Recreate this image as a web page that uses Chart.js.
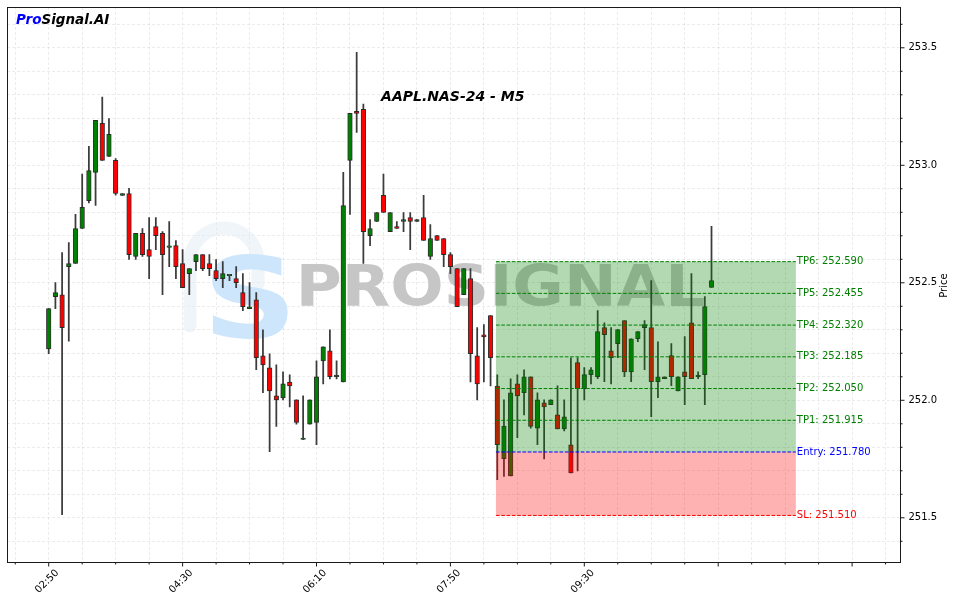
<!DOCTYPE html>
<html><head><meta charset="utf-8">
<script src="https://cdn.jsdelivr.net/npm/chart.js@4.4.1/dist/chart.umd.min.js"></script>
<style>html,body{margin:0;padding:0;background:#fff}#wrap{width:956px;height:603px;position:relative}</style>
</head><body><div id="wrap"><canvas id="c"></canvas></div>
<script>
const categories = [
'02:50','02:55','03:00','03:05','03:10','03:15','03:20','03:25','03:30','03:35','03:40','03:45','03:50','03:55','04:00','04:05','04:10','04:15','04:20','04:25',
'04:30','04:35','04:40','04:45','04:50','04:55','05:00','05:05','05:10','05:15','05:20','05:25','05:30','05:35','05:40','05:45','05:50','05:55','06:00','06:05',
'06:10','06:15','06:20','06:25','06:30','06:35','06:40','06:45','06:50','06:55','07:00','07:05','07:10','07:15','07:20','07:25','07:30','07:35','07:40','07:45',
'07:50','07:55','08:00','08:05','08:10','08:15','08:20','08:25','08:30','08:35','08:40','08:45','08:50','08:55','09:00','09:05','09:10','09:15','09:20','09:25',
'09:30','09:35','09:40','09:45','09:50','09:55','10:00','10:05','10:10','10:15','10:20','10:25','10:30','10:35','10:40','10:45','10:50','10:55','11:00','11:05'];

const opens = [
252.219,252.441,252.449,252.569,252.582,252.731,252.849,252.970,253.179,253.038,
253.021,252.872,252.880,252.612,252.710,252.641,252.739,252.710,252.651,252.658,
252.582,252.539,252.590,252.620,252.582,252.552,252.518,252.530,252.518,252.458,
252.390,252.428,252.189,252.138,252.019,252.010,252.078,252.002,251.833,251.898,
251.906,252.168,252.211,252.100,252.078,253.021,253.230,253.238,252.701,252.761,
252.872,252.718,252.739,252.761,252.778,252.761,252.778,252.612,252.701,252.688,
252.620,252.560,252.449,252.518,252.189,252.279,252.360,252.061,251.752,251.678,
252.070,252.032,252.100,251.881,251.989,251.981,251.938,251.878,251.810,252.160,
252.049,252.109,252.100,252.309,252.211,252.241,252.339,252.121,252.262,252.309,
252.309,252.079,252.092,252.190,252.040,252.121,252.330,252.100,252.109,252.480];
const highs = [
252.390,252.501,252.629,252.671,252.791,252.963,253.081,253.191,253.290,253.199,
253.029,252.880,252.902,252.710,252.731,252.778,252.778,252.718,252.761,252.680,
252.641,252.560,252.620,252.620,252.620,252.599,252.590,252.530,252.569,252.539,
252.501,252.458,252.300,252.198,252.151,252.121,252.108,252.002,252.019,252.002,
252.168,252.228,252.300,252.168,252.970,253.221,253.481,253.260,252.769,252.799,
252.963,252.799,252.761,252.799,252.799,252.769,252.872,252.748,252.701,252.688,
252.629,252.560,252.560,252.560,252.309,252.322,252.360,252.108,252.002,252.091,
252.108,252.130,252.100,252.032,252.002,252.002,252.062,252.002,252.181,252.181,
252.139,252.139,252.382,252.330,252.309,252.301,252.339,252.262,252.292,252.339,
252.509,252.249,252.100,252.241,252.100,252.271,252.539,252.121,252.441,252.740];
const lows = [
252.198,252.390,251.513,252.252,252.582,252.731,252.840,252.829,253.021,253.038,
252.873,252.872,252.599,252.599,252.612,252.518,252.641,252.449,252.569,252.518,
252.479,252.449,252.552,252.552,252.530,252.509,252.479,252.509,252.479,252.381,
252.390,252.130,252.032,251.781,251.889,252.002,251.972,251.898,251.833,251.898,
251.811,252.070,252.091,252.091,252.078,252.791,253.140,252.582,252.658,252.761,
252.799,252.718,252.731,252.718,252.641,252.761,252.680,252.599,252.680,252.569,
252.539,252.398,252.449,252.078,252.002,252.078,252.061,251.662,251.676,251.678,
251.841,251.938,251.881,251.811,251.750,251.981,251.878,251.870,251.691,251.699,
252.002,252.070,252.092,252.079,252.070,252.181,252.100,252.079,252.249,252.130,
251.930,252.011,252.092,252.062,252.040,251.981,252.092,252.092,251.981,252.480];
const closes = [
252.390,252.458,252.309,252.582,252.731,252.821,252.978,253.191,253.021,253.132,
252.880,252.880,252.620,252.710,252.620,252.612,252.701,252.620,252.651,252.569,
252.479,252.560,252.620,252.560,252.560,252.518,252.539,252.530,252.501,252.398,
252.398,252.181,252.151,252.040,252.002,252.070,252.061,251.906,251.833,252.002,
252.100,252.228,252.100,252.100,252.829,253.221,253.221,252.718,252.731,252.799,
252.799,252.799,252.731,252.769,252.761,252.769,252.680,252.688,252.680,252.620,
252.569,252.398,252.560,252.198,252.070,252.270,252.181,251.811,251.889,252.032,
252.019,252.100,251.889,252.002,251.972,252.002,251.878,251.930,251.691,252.049,
252.109,252.130,252.292,252.279,252.181,252.301,252.121,252.262,252.292,252.322,
252.079,252.100,252.100,252.100,252.100,252.100,252.092,252.100,252.399,252.509];

const levelNames  = ['TP6','TP5','TP4','TP3','TP2','TP1','Entry','SL'];
const levelValues = [252.590,252.455,252.320,252.185,252.050,251.915,251.780,251.510];
const zoneStartIdx = 66.8, zoneEndIdx = 111.6;
const yTickStep = 0.1, yLabelStep = 0.5;
const xGridStep = 5, xMajorStep = 20;
const chartTitle = 'AAPL.NAS-24 - M5';
const yTitle = 'Price';

const FONT = 'DejaVu Sans';
const GREEN = '#008000', RED = '#ff0000', BLUE = '#0000ff';

function isMult(v, s){ const r = v / s; return Math.abs(r - Math.round(r)) < 1e-6; }

function fitText(ctx, t, font, x0, y0, x1, y1, color){
  ctx.save();
  ctx.font = font; ctx.textAlign = 'left'; ctx.textBaseline = 'alphabetic';
  const m = ctx.measureText(t);
  const w = m.actualBoundingBoxLeft + m.actualBoundingBoxRight;
  const h = m.actualBoundingBoxAscent + m.actualBoundingBoxDescent;
  ctx.translate(x0, y0);
  ctx.scale((x1 - x0) / w, (y1 - y0) / h);
  ctx.fillStyle = color;
  ctx.fillText(t, m.actualBoundingBoxLeft, m.actualBoundingBoxAscent);
  ctx.restore();
}

function zeroPad(s){ s.paddingTop = 0; s.paddingBottom = 0; s.paddingLeft = 0; s.paddingRight = 0; }

const deco = {
  id: 'deco',
  beforeDatasetsDraw(chart){
    const {ctx, chartArea: a} = chart;
    ctx.save();
    ctx.beginPath(); ctx.rect(a.left, a.top, a.right - a.left, a.bottom - a.top); ctx.clip();
    ctx.filter = 'blur(0.7px)';
    ctx.strokeStyle = 'rgba(226,235,246,0.5)'; ctx.lineWidth = 13; ctx.lineCap = 'round';
    ctx.beginPath(); ctx.moveTo(190, 326); ctx.lineTo(190, 262); ctx.arc(224, 262, 34, Math.PI, 0); ctx.lineTo(258, 284); ctx.stroke();
    fitText(ctx, 'S', 'bold 100px ' + FONT, 212, 253, 288, 338, '#cde6fb');
    fitText(ctx, 'PROSIGNAL', 'bold 60px ' + FONT, 301, 263, 704, 307, '#c6c6c6');
    ctx.restore();
  },
  afterDatasetsDraw(chart){
    const {ctx} = chart;
    const xs = chart.scales.x, ys = chart.scales.y;
    const x0 = xs.getPixelForValue(zoneStartIdx), x1 = xs.getPixelForValue(zoneEndIdx);
    const entry = levelValues[levelNames.indexOf('Entry')];
    const sl = levelValues[levelNames.indexOf('SL')];
    const tpMax = Math.max(...levelValues);
    ctx.save();
    ctx.fillStyle = 'rgba(0,128,0,0.3)';
    ctx.fillRect(x0, ys.getPixelForValue(tpMax), x1 - x0, ys.getPixelForValue(entry) - ys.getPixelForValue(tpMax));
    ctx.fillStyle = 'rgba(255,0,0,0.3)';
    ctx.fillRect(x0, ys.getPixelForValue(entry), x1 - x0, ys.getPixelForValue(sl) - ys.getPixelForValue(entry));
    ctx.lineWidth = 1; ctx.setLineDash([3.7, 1.6]);
    ctx.font = '10px ' + FONT; ctx.textBaseline = 'middle'; ctx.textAlign = 'left';
    levelNames.forEach((n, i) => {
      const v = levelValues[i];
      const col = n === 'Entry' ? BLUE : (n === 'SL' ? RED : GREEN);
      const py = ys.getPixelForValue(v);
      ctx.strokeStyle = col;
      ctx.beginPath(); ctx.moveTo(x0, py); ctx.lineTo(x1, py); ctx.stroke();
      ctx.fillStyle = col;
      ctx.fillText(n + ': ' + v.toFixed(3), x1 + 1, py);
    });
    ctx.restore();
  },
  afterDraw(chart){
    const {ctx, chartArea: a} = chart;
    const xs = chart.scales.x, ys = chart.scales.y;
    ctx.save();
    ctx.strokeStyle = '#1a1a1a'; ctx.lineWidth = 1; ctx.setLineDash([]);
    const L = Math.round(a.left) + 0.5, T = Math.round(a.top) + 0.5, R = Math.floor(a.right) + 0.5, B = Math.floor(a.bottom) + 0.5;
    ctx.strokeRect(L, T, R - L, B - T);
    for (let v = Math.ceil(xs.min / xGridStep) * xGridStep; v <= xs.max; v += xGridStep){
      const px = xs.getPixelForValue(v);
      const len = isMult(v, xMajorStep) ? 4 : 2;
      ctx.beginPath(); ctx.moveTo(px, B); ctx.lineTo(px, B + len); ctx.stroke();
    }
    for (let k = Math.ceil(ys.min / yTickStep); k * yTickStep <= ys.max; k++){
      const v = k * yTickStep;
      const py = ys.getPixelForValue(v);
      const len = isMult(v, yLabelStep) ? 4 : 2;
      ctx.beginPath(); ctx.moveTo(R, py); ctx.lineTo(R + len, py); ctx.stroke();
    }
    ctx.fillStyle = '#000'; ctx.font = '10px ' + FONT; ctx.textAlign = 'center'; ctx.textBaseline = 'middle';
    for (let v = 0; v < categories.length; v += xMajorStep){
      const px = xs.getPixelForValue(v);
      ctx.save(); ctx.translate(px - 1.5, 581.5); ctx.rotate(-Math.PI / 4);
      ctx.fillText(categories[v], 0, 0); ctx.restore();
    }
    ctx.save(); ctx.translate(944, (a.top + a.bottom) / 2 + 1); ctx.rotate(-Math.PI / 2);
    ctx.fillText(yTitle, 0, 0); ctx.restore();
    ctx.font = 'italic bold 14px ' + FONT; ctx.textBaseline = 'alphabetic';
    ctx.fillText(chartTitle, (a.left + a.right) / 2 - 1, 101);
    ctx.font = 'italic bold 13.5px ' + FONT; ctx.textAlign = 'left';
    ctx.fillStyle = BLUE; ctx.fillText('Pro', 16, 24);
    const w = ctx.measureText('Pro').width;
    ctx.fillStyle = '#000'; ctx.fillText('Signal.AI', 16 + w, 24);
    ctx.restore();
  }
};

const candleColors = opens.map((o, i) => closes[i] >= o ? GREEN : RED);

new Chart(document.getElementById('c'), {
  type: 'bar',
  data: {
    datasets: [
      {
        label: 'body',
        data: opens.map((o, i) => ({x: i, y: [o, closes[i]]})),
        backgroundColor: candleColors,
        borderColor: 'rgba(30,30,30,0.9)',
        borderWidth: 1,
        borderSkipped: false,
        barThickness: 4.6,
        minBarLength: 1.5,
        grouped: false
      },
      {
        label: 'wick',
        data: lows.map((l, i) => ({x: i, y: [l, highs[i]]})),
        backgroundColor: '#3c3c3c',
        borderWidth: 0,
        barThickness: 1.1,
        grouped: false
      }
    ]
  },
  options: {
    responsive: true,
    maintainAspectRatio: false,
    animation: false,
    devicePixelRatio: 1,
    layout: {padding: {left: 7, top: 7, right: 0, bottom: 0}},
    plugins: {legend: {display: false}, tooltip: {enabled: false}, title: {display: false}},
    scales: {
      x: {
        type: 'linear',
        min: -6.23, max: 127.23,
        offset: false,
        grid: {offset: false, color: 'rgba(0,0,0,0.075)', lineWidth: 1, drawTicks: false},
        border: {display: false, dash: [3, 2]},
        ticks: {display: false, stepSize: xGridStep, includeBounds: false, autoSkip: false},
        afterFit: s => { s.height = 40.7; zeroPad(s); }
      },
      y: {
        type: 'linear',
        position: 'right',
        min: 251.3106, max: 253.6736,
        grid: {color: 'rgba(0,0,0,0.075)', lineWidth: 1, drawTicks: false},
        border: {display: false, dash: [3, 2]},
        ticks: {
          stepSize: yTickStep, includeBounds: false, autoSkip: false, padding: 8,
          color: '#000', font: {family: FONT, size: 10},
          callback: v => isMult(v, yLabelStep) ? Number(v).toFixed(1) : ''
        },
        afterFit: s => { s.width = 55.5; zeroPad(s); }
      }
    }
  },
  plugins: [deco]
});
</script>
</body></html>
